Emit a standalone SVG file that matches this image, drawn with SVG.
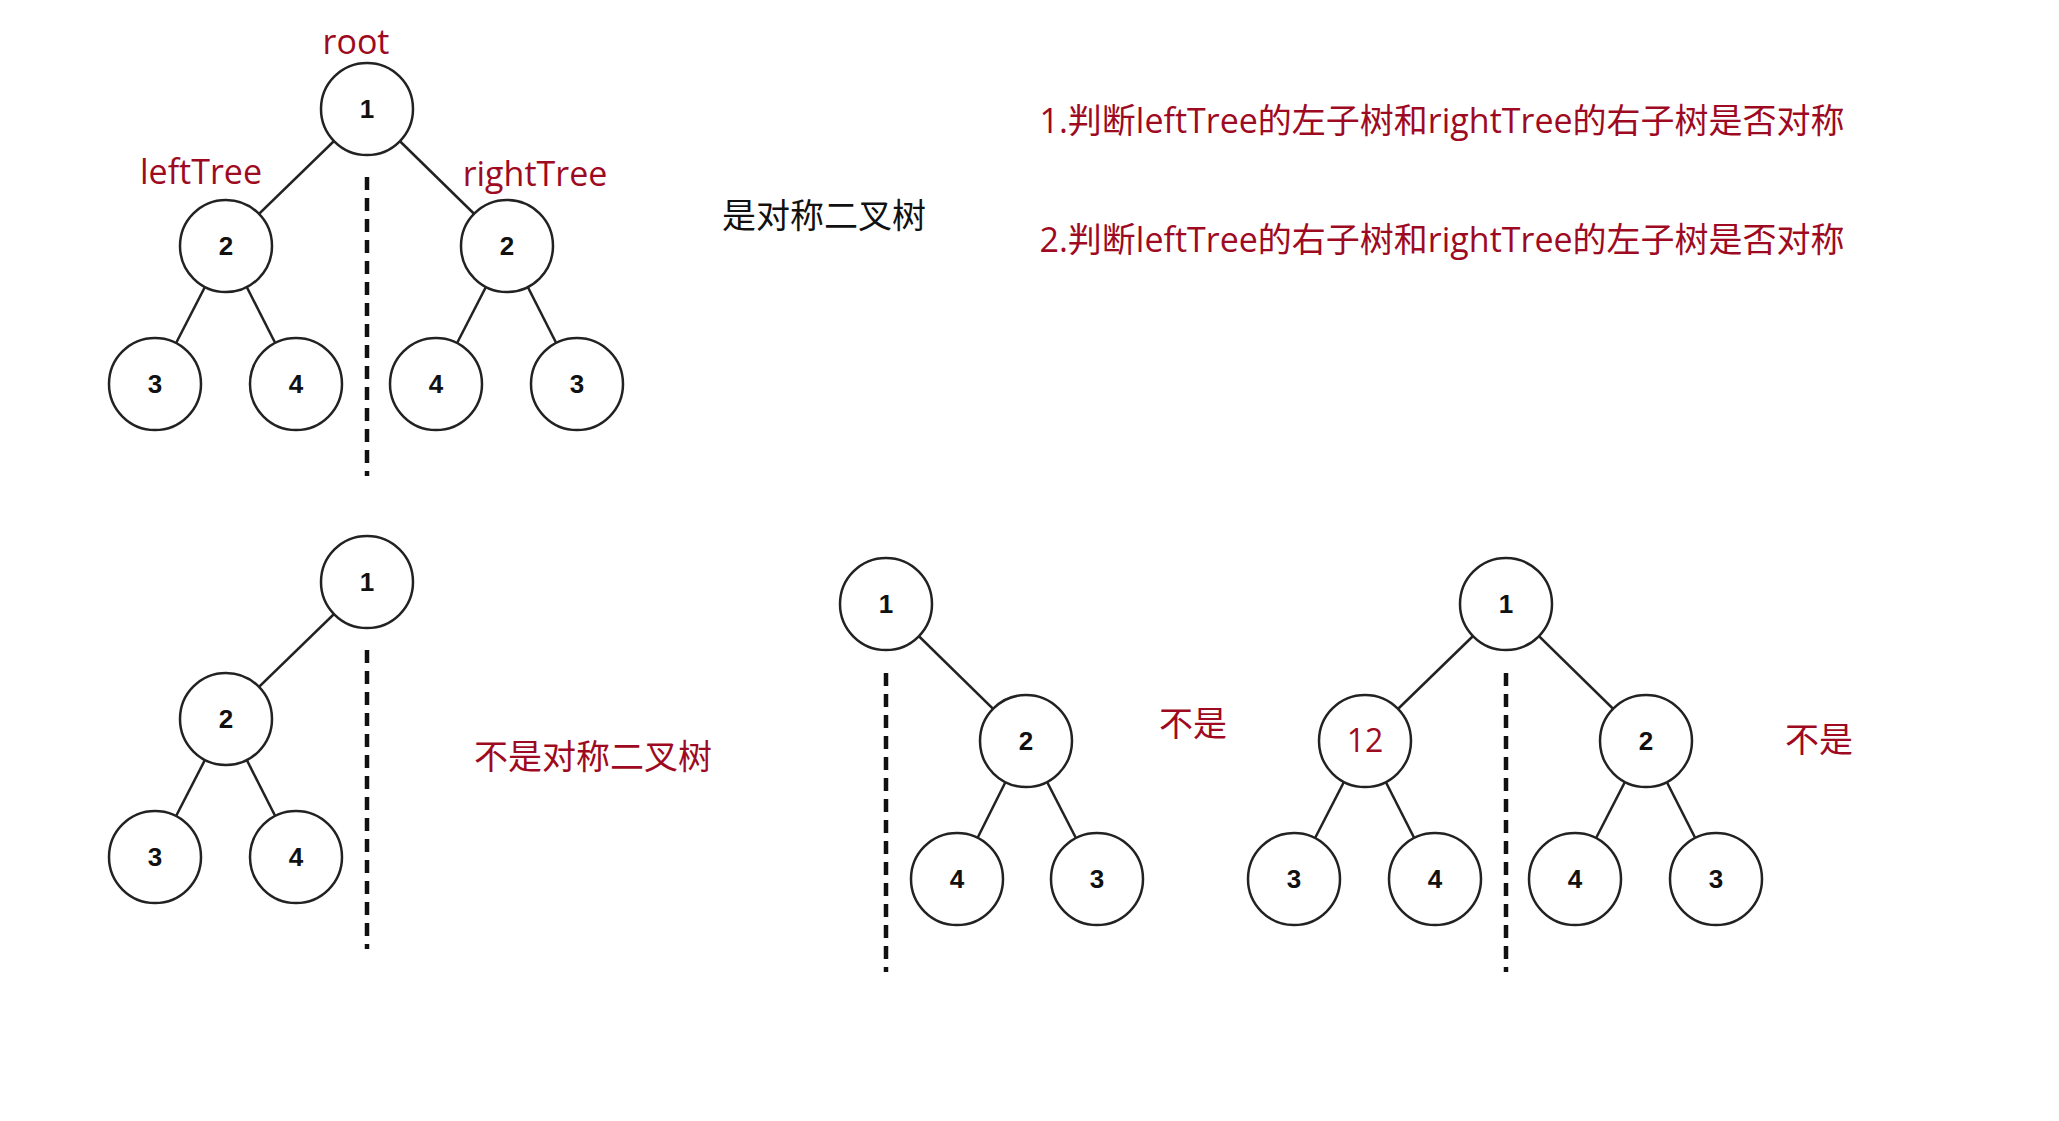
<svg xmlns="http://www.w3.org/2000/svg" width="2059" height="1121" viewBox="0 0 2059 1121">
<style>
.n circle{fill:#fff;stroke:#222;stroke-width:2.5}
.n text{font-family:"Liberation Sans",Arial,sans-serif;font-weight:bold;font-size:26px;text-anchor:middle;fill:#111}
.n text.r{fill:#9e0a21;font-weight:normal;font-family:"Open Sans",sans-serif;font-size:32px}
.e line{stroke:#222;stroke-width:2.5}
.e line.d{stroke:#111;stroke-width:4.5;stroke-dasharray:13,8}
.lbl{font-family:"Open Sans","Noto Sans CJK SC",sans-serif;font-size:34px;fill:#9e0a21;text-anchor:middle}
.blk{fill:#111}
</style>
<rect width="2059" height="1121" fill="#fff"/>
<g id="connectors" class="e">
<line x1="367" y1="109" x2="226" y2="246"/><line x1="367" y1="109" x2="507" y2="246"/>
<line x1="226" y1="246" x2="155" y2="384"/><line x1="226" y1="246" x2="296" y2="384"/>
<line x1="507" y1="246" x2="436" y2="384"/><line x1="507" y1="246" x2="577" y2="384"/>
<line x1="367" y1="582" x2="226" y2="719"/>
<line x1="226" y1="719" x2="155" y2="857"/><line x1="226" y1="719" x2="296" y2="857"/>
<line x1="886" y1="604" x2="1026" y2="741"/>
<line x1="1026" y1="741" x2="957" y2="879"/><line x1="1026" y1="741" x2="1097" y2="879"/>
<line x1="1506" y1="604" x2="1365" y2="741"/><line x1="1506" y1="604" x2="1646" y2="741"/>
<line x1="1365" y1="741" x2="1294" y2="879"/><line x1="1365" y1="741" x2="1435" y2="879"/>
<line x1="1646" y1="741" x2="1575" y2="879"/><line x1="1646" y1="741" x2="1716" y2="879"/>
<line class="d" x1="367" y1="177" x2="367" y2="476"/>
<line class="d" x1="367" y1="650" x2="367" y2="949"/>
<line class="d" x1="886" y1="673" x2="886" y2="972"/>
<line class="d" x1="1506" y1="673" x2="1506" y2="972"/>
</g>
<g id="t1-root" class="n"><circle cx="367" cy="109" r="46"/><text x="367" y="118">1</text></g>
<g id="t1-l" class="n"><circle cx="226" cy="246" r="46"/><text x="226" y="255">2</text></g>
<g id="t1-r" class="n"><circle cx="507" cy="246" r="46"/><text x="507" y="255">2</text></g>
<g id="t1-ll" class="n"><circle cx="155" cy="384" r="46"/><text x="155" y="393">3</text></g>
<g id="t1-lr" class="n"><circle cx="296" cy="384" r="46"/><text x="296" y="393">4</text></g>
<g id="t1-rl" class="n"><circle cx="436" cy="384" r="46"/><text x="436" y="393">4</text></g>
<g id="t1-rr" class="n"><circle cx="577" cy="384" r="46"/><text x="577" y="393">3</text></g>
<g id="t2-root" class="n"><circle cx="367" cy="582" r="46"/><text x="367" y="591">1</text></g>
<g id="t2-l" class="n"><circle cx="226" cy="719" r="46"/><text x="226" y="728">2</text></g>
<g id="t2-ll" class="n"><circle cx="155" cy="857" r="46"/><text x="155" y="866">3</text></g>
<g id="t2-lr" class="n"><circle cx="296" cy="857" r="46"/><text x="296" y="866">4</text></g>
<g id="t3-root" class="n"><circle cx="886" cy="604" r="46"/><text x="886" y="613">1</text></g>
<g id="t3-r" class="n"><circle cx="1026" cy="741" r="46"/><text x="1026" y="750">2</text></g>
<g id="t3-rl" class="n"><circle cx="957" cy="879" r="46"/><text x="957" y="888">4</text></g>
<g id="t3-rr" class="n"><circle cx="1097" cy="879" r="46"/><text x="1097" y="888">3</text></g>
<g id="t4-root" class="n"><circle cx="1506" cy="604" r="46"/><text x="1506" y="613">1</text></g>
<g id="t4-l" class="n"><circle cx="1365" cy="741" r="46"/><text class="r" x="1365" y="752">12</text></g>
<g id="t4-r" class="n"><circle cx="1646" cy="741" r="46"/><text x="1646" y="750">2</text></g>
<g id="t4-ll" class="n"><circle cx="1294" cy="879" r="46"/><text x="1294" y="888">3</text></g>
<g id="t4-lr" class="n"><circle cx="1435" cy="879" r="46"/><text x="1435" y="888">4</text></g>
<g id="t4-rl" class="n"><circle cx="1575" cy="879" r="46"/><text x="1575" y="888">4</text></g>
<g id="t4-rr" class="n"><circle cx="1716" cy="879" r="46"/><text x="1716" y="888">3</text></g>
<g id="labels">
<text class="lbl" x="356" y="54">root</text>
<text class="lbl" x="201" y="184">leftTree</text>
<text class="lbl" x="535" y="186">rightTree</text>
<text class="lbl blk" x="824" y="228">是对称二叉树</text>
<text class="lbl" x="1442" y="133">1.判断leftTree的左子树和rightTree的右子树是否对称</text>
<text class="lbl" x="1442" y="252">2.判断leftTree的右子树和rightTree的左子树是否对称</text>
<text class="lbl" x="593" y="769">不是对称二叉树</text>
<text class="lbl" x="1193" y="736">不是</text>
<text class="lbl" x="1819" y="752">不是</text>
</g>
</svg>
